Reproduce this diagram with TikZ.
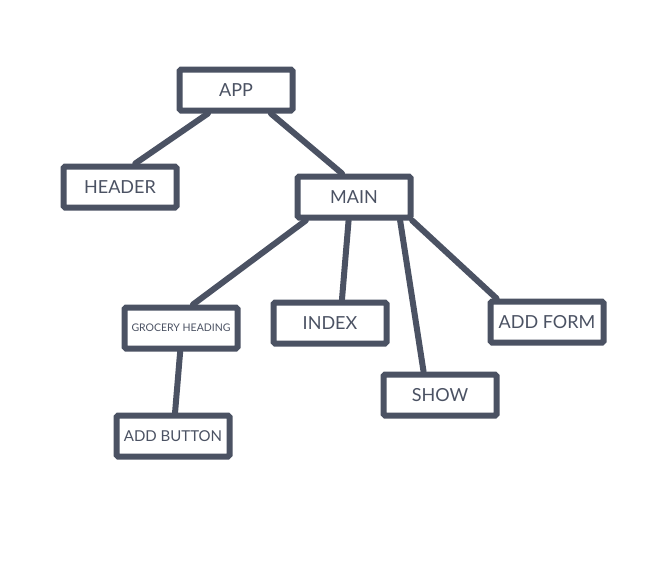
\documentclass[tikz,border=0pt]{standalone}
\usepackage{fontspec}
\setmainfont{Lato}
\usetikzlibrary{positioning,backgrounds}
\definecolor{slate}{RGB}{75,82,99}

\begin{document}
\begin{tikzpicture}[x=1pt,y=-1pt,
    comp/.style={draw=slate,line width=\lw pt,fill=white,rounded corners=1.5pt,
      minimum width=113pt,minimum height=41pt,inner sep=0pt,
      text=slate,font=\fontsize{18}{21}\selectfont},
    link/.style={draw=slate,line width=\lw pt,line cap=round}]
  \pgfmathsetmacro {\lw}{6} %line width in px

  \useasboundingbox (0,0) rectangle (670,565) ; %Page frame

  %Draw the components
  \node[comp] (app) at (236,90) {APP};
  \node[comp] (header) at (120,187) {HEADER};
  \node[comp] (main) at (354,197) {MAIN};
  \node[comp,font=\fontsize{10.5}{13}\selectfont] (grocery) at (181,328) {GROCERY HEADING};
  \node[comp] (index) at (330,323) {INDEX};
  \node[comp] (show) at (440,395) {SHOW};
  \node[comp] (addform) at (547,322) {ADD FORM};
  \node[comp,font=\fontsize{15}{18}\selectfont] (addbutton) at (173,436) {ADD BUTTON};

  %Draw the links behind the boxes
  \begin{scope}[on background layer]
    \draw[link] (app.220) -- (header.57) ;
    \draw[link] (app.326) -- (main.117) ;
    \draw[link] (main.206) -- (grocery.63) ;
    \draw[link] (main.257) -- (index.63) ;
    \draw[link] (main.333) -- (show.125) ;
    \draw[link] (main.338) -- (addform.155) ;
    \draw[link] (grocery.268) -- (addbutton.85) ;
  \end{scope}
\end{tikzpicture}
\end{document}
